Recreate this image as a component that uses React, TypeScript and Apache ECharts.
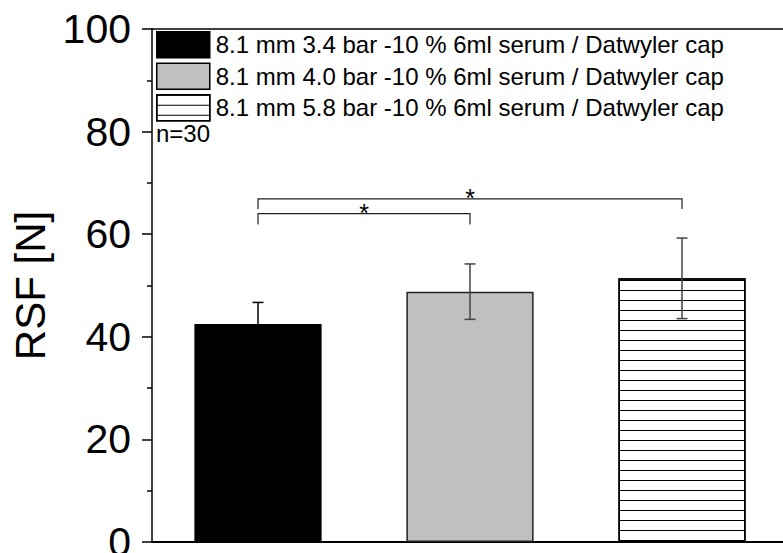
import React, { useEffect, useRef } from 'react';
import * as echarts from 'echarts';

// ---- data ----
const categories = ['3.4 bar', '4.0 bar', '5.8 bar'];
const seriesNames = [
  '8.1 mm 3.4 bar -10 % 6ml serum / Datwyler cap',
  '8.1 mm 4.0 bar -10 % 6ml serum / Datwyler cap',
  '8.1 mm 5.8 bar -10 % 6ml serum / Datwyler cap',
];
const meanValues = [42.5, 48.8, 51.4];
const errorValues = [4.2, 5.4, 7.85];
const bracketFrom = [0, 0];
const bracketTo = [2, 1];
const bracketTop = [66.9, 64.0];
const bracketLeg = [64.9, 61.9];
const bracketLabels = ['*', '*'];
const yMin = 0;
const yMax = 100;
const yInterval = 20;
const yTitle = 'RSF [N]';
const annotation = 'n=30';

const FONT = '"Liberation Sans", Arial, Helvetica, sans-serif';

const errorColors = ['#000000', '#444444', '#444444'];

const barStyles: any[] = [
  { color: '#000000', borderColor: '#000000', borderWidth: 1.5 },
  { color: '#c0c0c0', borderColor: '#222222', borderWidth: 1.5 },
  {
    color: '#ffffff',
    borderColor: '#000000',
    borderWidth: 1.5,
    decal: {
      symbol: 'rect',
      symbolSize: 1,
      color: '#000000',
      dashArrayX: [10, 0],
      dashArrayY: [1, 9],
      rotation: 0,
    },
  },
];

export default function App() {
  const ref = useRef<HTMLDivElement>(null);

  useEffect(() => {
    document.body.style.margin = '0';
    if (!ref.current) return;
    const chart = echarts.init(ref.current, null, { renderer: 'svg' });

    const barSeries = seriesNames.map((name, i) => ({
      type: 'bar',
      name,
      barWidth: '60%',
      barGap: '-100%',
      data: categories.map((_, j) => (j === i ? meanValues[j] : '-')),
      itemStyle: barStyles[i],
      silent: true,
    }));

    const errorSeries = {
      type: 'custom',
      name: 'error',
      silent: true,
      z: 5,
      data: meanValues.map((v, i) => [i, v - errorValues[i], v + errorValues[i]]),
      encode: { x: 0, y: [1, 2] },
      renderItem: (params: any, api: any) => {
        const x = api.value(0);
        const lo = api.coord([x, api.value(1)]);
        const hi = api.coord([x, api.value(2)]);
        const hw = 5.5;
        const style = { stroke: errorColors[params.dataIndex], lineWidth: 1.5 };
        return {
          type: 'group',
          children: [
            { type: 'line', shape: { x1: lo[0], y1: lo[1], x2: hi[0], y2: hi[1] }, style },
            { type: 'line', shape: { x1: hi[0] - hw, y1: hi[1], x2: hi[0] + hw, y2: hi[1] }, style },
            { type: 'line', shape: { x1: lo[0] - hw, y1: lo[1], x2: lo[0] + hw, y2: lo[1] }, style },
          ],
        };
      },
    };

    const bracketSeries = {
      type: 'custom',
      name: 'brackets',
      silent: true,
      z: 5,
      data: bracketFrom.map((f, i) => [f, bracketTo[i], bracketTop[i], bracketLeg[i]]),
      encode: { x: [0, 1], y: [2, 3] },
      renderItem: (params: any, api: any) => {
        const i = params.dataIndex;
        const a = api.coord([api.value(0), api.value(3)]);
        const b = api.coord([api.value(0), api.value(2)]);
        const c = api.coord([api.value(1), api.value(2)]);
        const d = api.coord([api.value(1), api.value(3)]);
        return {
          type: 'group',
          children: [
            {
              type: 'polyline',
              shape: { points: [a, b, c, d] },
              style: { stroke: '#222222', lineWidth: 1.2, fill: 'none' },
            },
            {
              type: 'text',
              x: (b[0] + c[0]) / 2,
              y: b[1] - 1,
              style: {
                text: bracketLabels[i],
                fontSize: 25,
                fontFamily: FONT,
                fill: '#000',
                align: 'center',
                verticalAlign: 'middle',
              },
            },
          ],
        };
      },
    };

    chart.setOption({
      animation: false,
      grid: {
        left: 152,
        top: 29,
        width: 636,
        height: 513,
        containLabel: false,
        outerBoundsMode: 'none',
      },
      legend: {
        data: seriesNames,
        orient: 'vertical',
        left: 156,
        top: 31,
        padding: 0,
        icon: 'rect',
        itemWidth: 53,
        itemHeight: 26,
        itemGap: 4,
        selectedMode: false,
        itemStyle: { borderColor: '#000', borderWidth: 1.5 },
        textStyle: { fontSize: 24, fontFamily: FONT, color: '#000', padding: [0, 0, 0, 1] },
      },
      graphic: [
        {
          type: 'text',
          left: 156,
          top: 121,
          style: { text: annotation, fontSize: 24, fontFamily: FONT, fill: '#000' },
        },
      ],
      xAxis: [
        {
          type: 'category',
          data: categories,
          position: 'bottom',
          axisLine: { show: true, lineStyle: { color: '#000', width: 2 } },
          axisTick: { show: false },
          axisLabel: { show: false },
          splitLine: { show: false },
        },
        {
          type: 'category',
          data: categories,
          position: 'top',
          axisLine: { show: true, lineStyle: { color: '#000', width: 1.5 } },
          axisTick: { show: false },
          axisLabel: { show: false },
          splitLine: { show: false },
        },
      ],
      yAxis: {
        type: 'value',
        min: yMin,
        max: yMax,
        interval: yInterval,
        axisLine: { show: true, lineStyle: { color: '#000', width: 1.5 } },
        axisTick: { show: true, length: 10, lineStyle: { color: '#000', width: 1.5 } },
        minorTick: { show: true, splitNumber: 2, length: 5, lineStyle: { color: '#000', width: 1.5 } },
        splitLine: { show: false },
        axisLabel: { fontSize: 41, color: '#000', fontFamily: FONT, margin: 21 },
        name: yTitle,
        nameLocation: 'middle',
        nameGap: 99,
        nameTextStyle: { fontSize: 42, color: '#000', fontFamily: FONT },
      },
      series: [...barSeries, errorSeries, bracketSeries],
    });

    return () => chart.dispose();
  }, []);

  return <div ref={ref} style={{ width: 783, height: 553 }} />;
}
